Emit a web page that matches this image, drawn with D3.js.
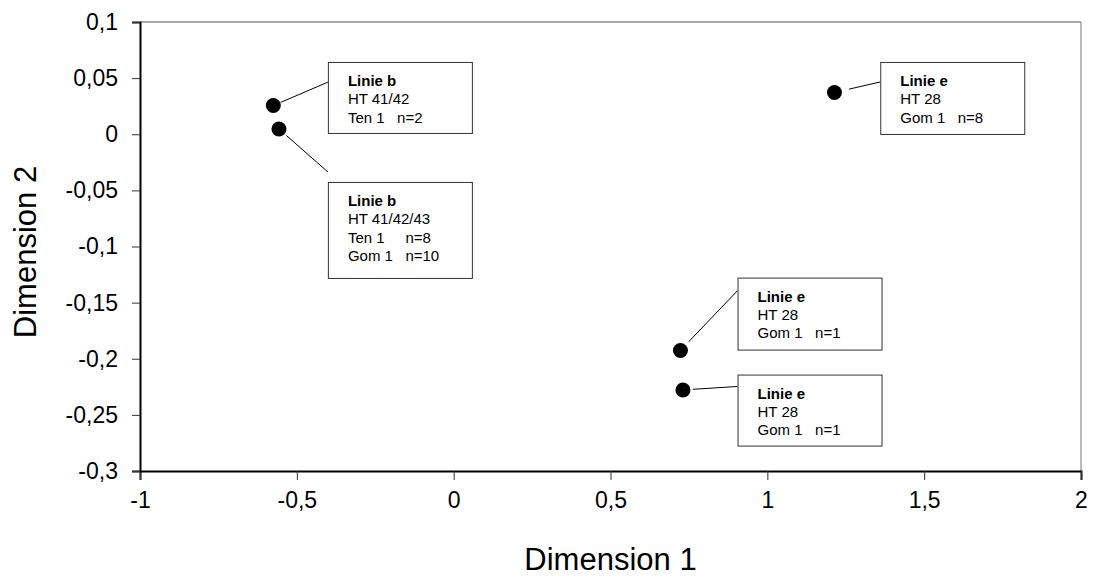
<!DOCTYPE html>
<html>
<head>
<meta charset="utf-8">
<script src="https://cdn.jsdelivr.net/npm/d3@7"></script>
<style>
  html, body { margin: 0; padding: 0; background: #fff; }
  svg { display: block; font-family: Arial, "Liberation Sans", sans-serif; }
  text { white-space: pre; }
</style>
</head>
<body>
<svg id="chart" width="1095" height="579"></svg>
<script>
// ---- data ----
const pointX = [-0.575, -0.557, 1.214, 0.723, 0.731];
const pointY = [0.0256, 0.0047, 0.0372, -0.1926, -0.2278];
const labelTitles = ["Linie b", "Linie b", "Linie e", "Linie e", "Linie e"];
const labelLines = [
  ["HT 41/42", "Ten 1   n=2"],
  ["HT 41/42/43", "Ten 1     n=8", "Gom 1   n=10"],
  ["HT 28", "Gom 1   n=8"],
  ["HT 28", "Gom 1   n=1"],
  ["HT 28", "Gom 1   n=1"]
];
const xTicks = [-1, -0.5, 0, 0.5, 1, 1.5, 2];
const yTicks = [0.1, 0.05, 0, -0.05, -0.1, -0.15, -0.2, -0.25, -0.3];
const xTitle = "Dimension 1";
const yTitle = "Dimension 2";

// ---- layout (box anchor in data units, connector end on box edge in data units) ----
const boxLeft   = [-0.401, -0.401, 1.360, 0.905, 0.905];
const boxTop    = [0.0644, -0.0425, 0.0644, -0.1277, -0.2141];
const boxHeight = [71, 96, 72, 72, 71];
const connEndY  = [0.0464, -0.0336, 0.0466, -0.1393, -0.2247];
const connGap   = [8, 10, 15, 12, 10];
const boxWidth = 144;

const svg = d3.select("#chart");
const margin = {left: 140, right: 14, top: 22, bottom: 108};
const W = 1095, H = 579;

const x = d3.scaleLinear().domain([-1, 2]).range([margin.left, W - margin.right]);
const y = d3.scaleLinear().domain([-0.3, 0.1]).range([H - margin.bottom, margin.top]);

const fmt = d => String(d).replace(".", ",");

// frame: top and right borders
svg.append("line").attr("x1", x(-1)).attr("x2", x(2)).attr("y1", y(0.1)).attr("y2", y(0.1))
  .attr("stroke", "#555").attr("stroke-width", 1);
svg.append("line").attr("x1", x(2)).attr("x2", x(2)).attr("y1", y(0.1)).attr("y2", y(-0.3))
  .attr("stroke", "#777").attr("stroke-width", 1);

// axes
const xAxis = svg.append("g").attr("transform", `translate(0,${y(-0.3)})`)
  .call(d3.axisBottom(x).tickValues(xTicks).tickFormat(fmt).tickSize(9).tickPadding(12));
const yAxis = svg.append("g").attr("transform", `translate(${x(-1)},0)`)
  .call(d3.axisLeft(y).tickValues(yTicks).tickFormat(fmt).tickSize(8).tickPadding(14));

[xAxis, yAxis].forEach(g => {
  g.select(".domain").attr("stroke", "#000").attr("stroke-width", 2);
  g.selectAll(".tick line").attr("stroke", "#333").attr("stroke-width", 1);
  g.selectAll(".tick text").attr("font-size", 23).attr("fill", "#000")
    .attr("font-family", "Arial, 'Liberation Sans', sans-serif");
});

// axis titles
svg.append("text").attr("x", x(0.5)).attr("y", 570).attr("text-anchor", "middle")
  .attr("font-size", 31).text(xTitle);
svg.append("text").attr("transform", `translate(36,${252}) rotate(-90)`)
  .attr("text-anchor", "middle").attr("font-size", 31).text(yTitle);

// connectors
pointX.forEach((px, i) => {
  const cx = x(px), cy = y(pointY[i]);
  const ex = x(boxLeft[i]), ey = y(connEndY[i]);
  const dx = ex - cx, dy = ey - cy, len = Math.hypot(dx, dy);
  svg.append("line")
    .attr("x1", cx + dx / len * connGap[i]).attr("y1", cy + dy / len * connGap[i])
    .attr("x2", ex).attr("y2", ey)
    .attr("stroke", "#000").attr("stroke-width", 1);
});

// boxes
pointX.forEach((px, i) => {
  const bx = x(boxLeft[i]), by = y(boxTop[i]);
  const g = svg.append("g").attr("transform", `translate(${bx},${by})`);
  g.append("rect").attr("x", 0.5).attr("y", 0.5).attr("width", boxWidth).attr("height", boxHeight[i])
    .attr("fill", "#fff").attr("stroke", "#333").attr("stroke-width", 1);
  g.append("text").attr("x", 20).attr("y", 24).attr("font-size", 15).attr("font-weight", "bold")
    .text(labelTitles[i]);
  labelLines[i].forEach((t, j) => {
    g.append("text").attr("x", 20).attr("y", 24 + 18.3 * (j + 1)).attr("font-size", 15).text(t);
  });
});

// points
svg.append("g").selectAll("circle").data(pointX).join("circle")
  .attr("cx", d => x(d)).attr("cy", (d, i) => y(pointY[i])).attr("r", 7.5).attr("fill", "#000");
</script>
</body>
</html>
